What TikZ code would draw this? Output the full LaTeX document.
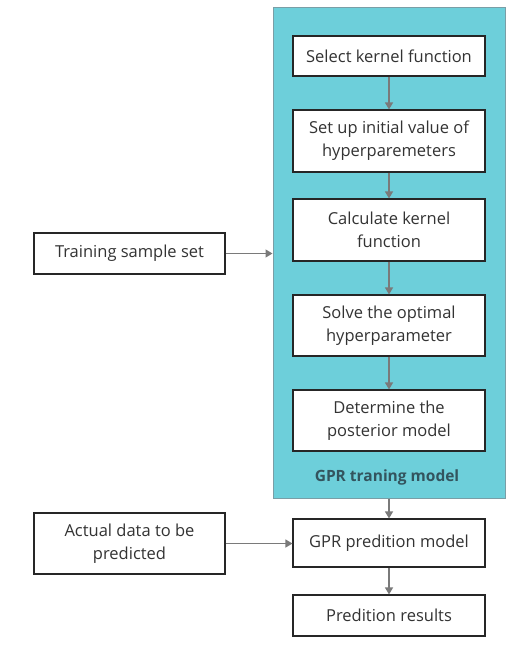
\documentclass[tikz,border=0pt]{standalone}
\usepackage{fontspec}
\setmainfont{Open Sans}
\usetikzlibrary{arrows.meta}

\definecolor{gprteal}{HTML}{6DCFDA}
\definecolor{gprline}{HTML}{7A9EA6}
\definecolor{gprlabel}{HTML}{33545E}
\definecolor{arrowgray}{HTML}{7A7A7A}

\tikzset{
  stepbox/.style={draw=black!85, line width=1.1pt, fill=white, text=black!80,
    minimum width=192pt, align=center, font=\fontsize{16.5}{23}\selectfont, inner sep=2pt},
  flow/.style={draw=arrowgray, line width=1.3pt, -{Triangle[width=8pt,length=7pt]}}
}

\begin{document}
\begin{tikzpicture}[x=1pt,y=-1pt]
\useasboundingbox (0,0) rectangle (519,650);
%\draw[help lines,step=50] (0,0) grid (519,650);

% training block
\node[draw=gprline, line width=1pt, fill=gprteal, minimum width=232pt,
  minimum height=490pt, inner sep=0pt] (train) at (389,253) {};
\node[text=gprlabel, font=\fontsize{15.5}{18}\selectfont\bfseries] (trainlabel) at (387,477) {GPR traning model};

\node[stepbox, minimum height=40pt] (kernel) at (389,56) {Select kernel function};
\node[stepbox, minimum height=62pt] (init) at (389,141) {Set up initial value of\\hyperparemeters};
\node[stepbox, minimum height=62pt] (calc) at (389,230) {Calculate kernel\\function};
\node[stepbox, minimum height=61pt] (solve) at (389,325.5) {Solve the optimal\\hyperparameter};
\node[stepbox, minimum height=61pt] (post) at (389,420.5) {Determine the\\posterior model};

% prediction
\node[stepbox, minimum height=48pt] (pred) at (389,543) {GPR predition model};
\node[stepbox, minimum height=41pt] (result) at (389,615.5) {Predition results};

% inputs
\node[stepbox, minimum width=191pt, minimum height=41pt] (sample) at (129.5,253.5) {Training sample set};
\node[stepbox, minimum width=191pt, minimum height=61pt] (actual) at (129.5,543.5) {Actual data to be\\predicted};

\draw[flow] (kernel) -- (init);
\draw[flow] (init) -- (calc);
\draw[flow] (calc) -- (solve);
\draw[flow] (solve) -- (post);
\draw[flow] (train.south) -- (pred);
\draw[flow] (pred) -- (result);
\draw[flow] (sample.east) -- (sample.east -| train.west);
\draw[flow] (actual.east) -- (actual.east -| pred.west);
\end{tikzpicture}
\end{document}
